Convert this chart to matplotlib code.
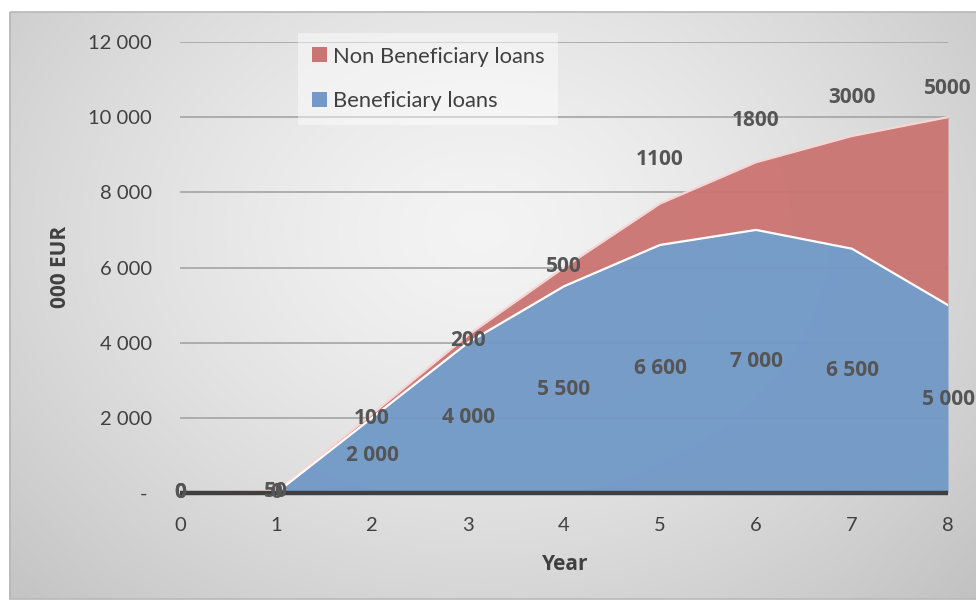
import numpy as np
import matplotlib.pyplot as plt
from matplotlib.patches import Patch, Rectangle

plt.rcParams['font.family'] = ['Lato', 'DejaVu Sans']
bold_font = ['Open Sans', 'DejaVu Sans']

# Loan volumes in thousand EUR per year
years = [0, 1, 2, 3, 4, 5, 6, 7, 8]
beneficiary = [0, 0, 2000, 4000, 5500, 6600, 7000, 6500, 5000]
non_beneficiary = [0, 50, 100, 200, 500, 1100, 1800, 3000, 5000]

# vertical nudges (points) for the non-beneficiary value labels
nb_label_dy = [0, 0, -3, -4, 1, 32, 30, 28, 21]

blue = '#7299C7'
red = '#CB7573'
text_col = '#404040'

W, H = 976, 601
fig = plt.figure(figsize=(W / 100, H / 100), dpi=100)
fig.patch.set_facecolor('white')

# radial grey backdrop of the chart frame
bg = fig.add_axes([0, 0, 1, 1], zorder=-10)
yy, xx = np.mgrid[0:H, 0:W]
r = np.hypot((xx - 480) / 620.0, (yy - 230) / 480.0)
shade = np.clip(0.955 - 0.17 * r ** 1.4, 0.76, 0.96)
img = np.dstack([shade] * 3)
img[:12, :, :] = 1.0
img[:, :9, :] = 1.0
img[599:, :, :] = 1.0
bg.imshow(img, extent=(0, W, H, 0), aspect='auto', interpolation='bilinear')
bg.add_patch(Rectangle((9.5, 12), W, 587, fill=False, edgecolor='#B8B8B8', lw=1.2))
bg.set_xlim(0, W)
bg.set_ylim(H, 0)
bg.axis('off')

ax = fig.add_axes([180 / W, 1 - 493 / H, (948 - 180) / W, (493 - 42) / H])
ax.set_facecolor('none')

x = np.array(years)
b = np.array(beneficiary)
top = b + np.array(non_beneficiary)

ax.fill_between(x, 0, b, color=blue, lw=0, alpha=0.96, zorder=2)
ax.fill_between(x, b, top, color=red, lw=0, alpha=0.96, zorder=2)
ax.plot(x, top, color='#F6D6D5', lw=1.6, zorder=3, solid_joinstyle='round')
ax.plot(x[1:], b[1:], color='white', lw=1.6, zorder=3, solid_joinstyle='round')
ax.plot([0, 8], [0, 0], color='#3F3F3F', lw=3.2, zorder=4, clip_on=False,
        solid_capstyle='butt')

ax.set_xlim(0, 8)
ax.set_ylim(0, 12000)
ax.set_yticks(range(0, 12001, 2000))
ax.set_yticklabels(['- '] + [f'{v:,}'.replace(',', ' ') for v in range(2000, 12001, 2000)])
ax.set_xticks(years)
ax.grid(axis='y', color='#A4A4A4', lw=1.2, zorder=1)
ax.set_axisbelow(True)
ax.tick_params(axis='both', length=0, labelsize=14.5, labelcolor=text_col)
ax.tick_params(axis='y', pad=20)
ax.tick_params(axis='x', pad=17)
for s in ax.spines.values():
    s.set_visible(False)

ax.set_xlabel('Year', fontsize=15, fontweight='bold', color=text_col, family=bold_font)
ax.set_ylabel('000 EUR', fontsize=15, fontweight='bold', color=text_col, family=bold_font)
ax.xaxis.set_label_coords(0.5 + (565 - 564) / 768, (493 - 565) / 451)
ax.yaxis.set_label_coords((60 - 180) / 768, 0.5 + (493 - 267 - 225.5) / 451)
ax.xaxis.label.set_va('center')
ax.yaxis.label.set_va('center')

lab = dict(fontsize=15, fontweight='bold', color='#555555', ha='center',
           va='center', zorder=6, annotation_clip=False, family=bold_font)
for xi, bi, ti, nb, dy in zip(years, beneficiary, top, non_beneficiary, nb_label_dy):
    ax.annotate(f'{bi:,}'.replace(',', ' '), (xi, bi / 2), **lab)
    ax.annotate(f'{nb}', (xi, ti), xytext=(0, dy), textcoords='offset points', **lab)

handles = [Patch(facecolor=red, edgecolor='none'), Patch(facecolor=blue, edgecolor='none')]
leg = fig.legend(handles, ['Non Beneficiary loans', 'Beneficiary loans'],
                 loc='upper left', bbox_to_anchor=(298 / W, 1 - 33 / H),
                 fontsize=15.8, frameon=True, framealpha=0.45, edgecolor='none',
                 facecolor='white', fancybox=False, handlelength=0.68,
                 handleheight=0.68, handletextpad=0.3, labelspacing=1.12,
                 borderpad=0.62, borderaxespad=0)
for t in leg.get_texts():
    t.set_color(text_col)

fig.savefig('out.png', dpi=100)
